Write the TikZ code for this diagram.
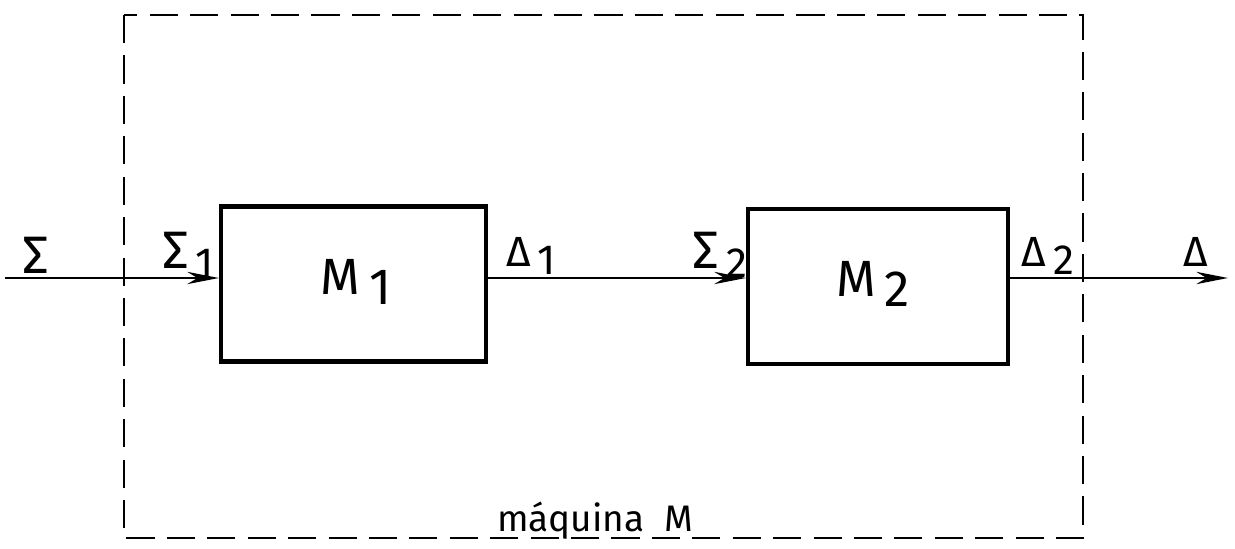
\documentclass[tikz,border=0pt]{standalone}
\usepackage{fontspec}
\setmainfont{Fira Sans}
\usetikzlibrary{arrows.meta}
\newcommand{\lowidx}[1]{\,\raisebox{-0.4ex}{#1}}
\newcommand{\bigsig}{{\fontsize{15}{16}\selectfont Σ}}

\begin{document}
\begin{tikzpicture}[>={Stealth[length=9pt,width=3.5pt]},
  block/.style={draw,line width=1.2pt,minimum width=2.65cm,minimum height=1.55cm,inner sep=0pt},
  lbl/.style={font=\fontsize{12}{13}\selectfont,inner sep=0pt},
  conn/.style={->,line width=0.8pt}]
\useasboundingbox (0,0) rectangle (12.35,-5.49);
% machine frame
\draw[line width=0.8pt,dash pattern=on 8pt off 3.5pt] (1.24,-0.15) rectangle (10.83,-5.38);
\node[block] (m1) at (3.535,-2.84) {};
\node[block,minimum width=2.6cm] (m2) at (8.78,-2.865) {};
\node[font=\fontsize{14.5}{16}\selectfont] (t1) at (3.56,-2.82) {M\lowidx{1}};
\node[font=\fontsize{14.5}{16}\selectfont] (t2) at (8.73,-2.84) {M\lowidx{2}};
\coordinate (in) at (0.05,-2.78);
\coordinate (out) at (12.28,-2.78);
\draw[conn] (in) -- (in -| m1.west);
\draw[conn] (in -| m1.east) -- (in -| m2.west);
\draw[conn] (in -| m2.east) -- (out);
% labels
\node[lbl] (s) at (0.36,-2.55) {\bigsig};
\node[lbl] (s1) at (1.88,-2.55) {\bigsig\lowidx{1}};
\node[lbl] (d1) at (5.31,-2.56) {Δ\lowidx{1}};
\node[lbl] (s2) at (7.2,-2.55) {\bigsig\lowidx{2}};
\node[lbl] (d2) at (10.48,-2.56) {Δ\lowidx{2}};
\node[lbl] (d) at (11.96,-2.52) {Δ};
\node[lbl,font=\fontsize{10.5}{12}\selectfont] (mq) at (5.95,-5.21) {máquina\ \ M};
\end{tikzpicture}
\end{document}
